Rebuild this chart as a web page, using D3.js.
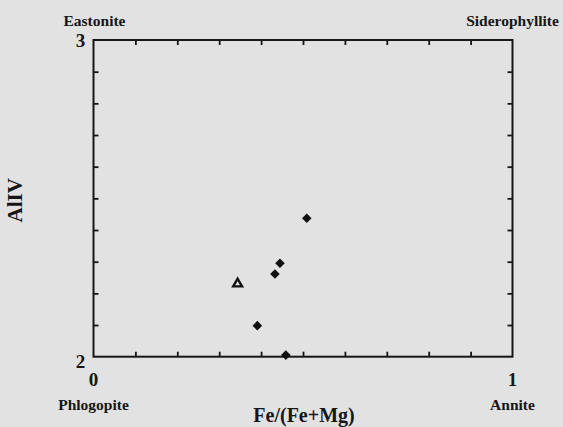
<!DOCTYPE html>
<html>
<head>
<meta charset="utf-8">
<script src="https://cdn.jsdelivr.net/npm/d3@7"></script>
<style>
  body { margin: 0; background: #e2e2e2; }
  svg text { font-family: "Liberation Serif", "Times New Roman", serif; font-weight: bold; fill: #161616; }
</style>
</head>
<body>
<script>
// biotite analyses, Fe/(Fe+Mg) vs Al(IV)
var diamondFe = [0.509, 0.445, 0.433, 0.391, 0.459];
var diamondAl = [2.437, 2.295, 2.261, 2.098, 2.005];
var triangleFe = [0.344];
var triangleAl = [2.230];
var minorTicksX = [0.1, 0.2, 0.3, 0.4, 0.5, 0.6, 0.7, 0.8, 0.9];
var minorTicksY = [2.1, 2.2, 2.3, 2.4, 2.5, 2.6, 2.7, 2.8, 2.9];
var endMembers = ["Eastonite", "Siderophyllite", "Phlogopite", "Annite"];

var W = 563, H = 427;
var margin = {top: 40, right: 50.5, bottom: 70.3, left: 93.5},
    width = W - margin.left - margin.right,
    height = H - margin.top - margin.bottom;

var x = d3.scaleLinear().domain([0, 1]).range([0, width]);
var y = d3.scaleLinear().domain([2, 3]).range([height, 0]);

var svg = d3.select("body").append("svg")
    .attr("width", W)
    .attr("height", H);

var g = svg.append("g")
    .attr("transform", "translate(" + margin.left + "," + margin.top + ")");

// inward ticks on all four sides
function noDomain(sel) { sel.select(".domain").remove(); sel.selectAll("line").attr("stroke", "#161616").attr("stroke-width", 1.8); }
g.append("g").attr("transform", "translate(0," + height + ")")
    .call(d3.axisBottom(x).tickValues(minorTicksX).tickSize(-5).tickFormat(""))
    .call(noDomain);
g.append("g")
    .call(d3.axisTop(x).tickValues(minorTicksX).tickSize(-5).tickFormat(""))
    .call(noDomain);
g.append("g")
    .call(d3.axisLeft(y).tickValues(minorTicksY).tickSize(-5).tickFormat(""))
    .call(noDomain);
g.append("g").attr("transform", "translate(" + width + ",0)")
    .call(d3.axisRight(y).tickValues(minorTicksY).tickSize(-5).tickFormat(""))
    .call(noDomain);

// frame
g.append("rect")
    .attr("x", x(0)).attr("y", y(3))
    .attr("width", x(1) - x(0)).attr("height", y(2) - y(3))
    .attr("fill", "none")
    .attr("stroke", "#161616")
    .attr("stroke-width", 2);

// end values
g.append("text").attr("x", x(0)).attr("y", height + 29).attr("text-anchor", "middle")
    .style("font-size", "19px").text("0");
g.append("text").attr("x", x(1)).attr("y", height + 29).attr("text-anchor", "middle")
    .style("font-size", "19px").text("1");
g.append("text").attr("x", -13).attr("y", y(2) + 11).attr("text-anchor", "middle")
    .style("font-size", "19px").text("2");
g.append("text").attr("x", -13).attr("y", y(3) + 7).attr("text-anchor", "middle")
    .style("font-size", "19px").text("3");

// end-member names at the corners
g.append("text").attr("x", x(0) + 1).attr("y", y(3) - 14).attr("text-anchor", "middle")
    .style("font-size", "15.5px").text(endMembers[0]);
g.append("text").attr("x", x(1)).attr("y", y(3) - 14).attr("text-anchor", "middle")
    .style("font-size", "15.5px").text(endMembers[1]);
g.append("text").attr("x", x(0)).attr("y", height + 53).attr("text-anchor", "middle")
    .style("font-size", "15.5px").text(endMembers[2]);
g.append("text").attr("x", x(1)).attr("y", height + 53).attr("text-anchor", "middle")
    .style("font-size", "15.5px").text(endMembers[3]);

// axis titles
g.append("text").attr("x", width / 2 + 1).attr("y", height + 65).attr("text-anchor", "middle")
    .style("font-size", "20px").text("Fe/(Fe+Mg)");
g.append("text")
    .attr("transform", "translate(" + (-72) + "," + (y(2.5) + 2) + ") rotate(-90)")
    .attr("text-anchor", "middle")
    .style("font-size", "21px").text("AlIV");

// points
var diamonds = diamondFe.map(function(d, i) { return {fe: d, al: diamondAl[i]}; });
var triangles = triangleFe.map(function(d, i) { return {fe: d, al: triangleAl[i]}; });

g.selectAll(".dia")
    .data(diamonds)
    .enter().append("path")
    .attr("class", "dia")
    .attr("transform", function(d) { return "translate(" + x(d.fe) + "," + y(d.al) + ") rotate(45)"; })
    .attr("d", d3.symbol().type(d3.symbolSquare).size(46))
    .attr("fill", "#111");

g.selectAll(".tri")
    .data(triangles)
    .enter().append("path")
    .attr("class", "tri")
    .attr("transform", function(d) { return "translate(" + x(d.fe) + "," + y(d.al) + ")"; })
    .attr("d", d3.symbol().type(d3.symbolTriangle).size(34))
    .attr("fill", "#e2e2e2")
    .attr("stroke", "#111")
    .attr("stroke-width", 2.4);
</script>
</body>
</html>
